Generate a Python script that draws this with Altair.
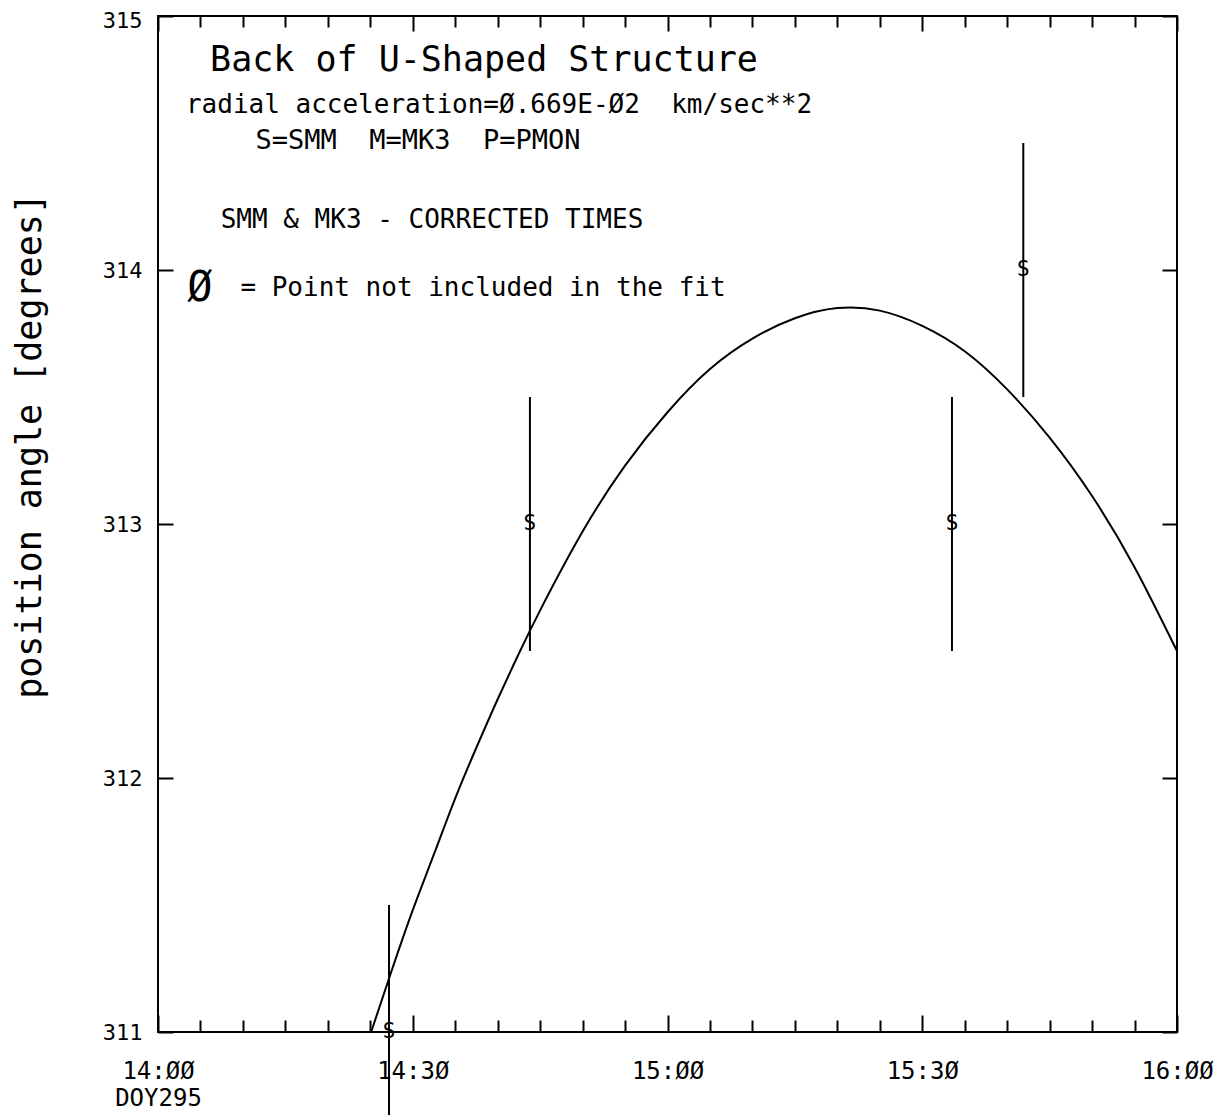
import altair as alt
import pandas as pd

# ---------------- data ----------------
# time in minutes after 14:00 (DOY 295), position angle in degrees
point_times = [27.2, 43.8, 93.5, 101.9]
point_values = [311.0, 313.0, 313.0, 314.0]
point_errors = [0.5, 0.5, 0.5, 0.5]
point_symbols = ["S", "S", "S", "S"]

fit_times = [25.1, 27.5, 30, 32.5, 35, 37.5, 40, 42.5, 45, 50, 55, 60, 65,
             70, 75, 80, 85, 90, 95, 100, 105, 110, 115, 120]
fit_values = [311.00, 311.24, 311.48, 311.70, 311.92, 312.12, 312.31, 312.49,
              312.66, 312.97, 313.23, 313.44, 313.61, 313.73, 313.81, 313.85,
              313.84, 313.78, 313.68, 313.53, 313.34, 313.11, 312.83, 312.50]

x_major_ticks = [0, 30, 60, 90, 120]
x_major_labels = ["14:ØØ", "14:3Ø", "15:ØØ", "15:3Ø", "16:ØØ"]
x_first_sublabel = "DOY295"
x_minor_ticks = [5, 10, 15, 20, 25, 35, 40, 45, 50, 55, 65, 70, 75, 80, 85,
                 95, 100, 105, 110, 115]
y_ticks = [311, 312, 313, 314, 315]

NB = "\u00a0"  # keeps the double spaces of the original text visible
title_line = "Back of U-Shaped Structure"
accel_line = "radial acceleration=Ø.669E-Ø2" + NB + NB + "km/sec**2"
key_line = "S=SMM" + NB + NB + "M=MK3" + NB + NB + "P=PMON"
corr_line = "SMM & MK3 - CORRECTED TIMES"
excl_symbol = "Ø"
excl_line = "= Point not included in the fit"
y_title = "position angle [degrees]"

# ---------------- tables ----------------
pts = pd.DataFrame({"t": point_times, "v": point_values, "s": point_symbols})
pts["lo"] = pts["v"] - pd.Series(point_errors)
pts["hi"] = pts["v"] + pd.Series(point_errors)
fit = pd.DataFrame({"t": fit_times, "v": fit_values})

FONT = "DejaVu Sans Mono"
W, H = 1019, 1016

xs = alt.Scale(domain=[0, 120], nice=False, zero=False)
ys = alt.Scale(domain=[311, 315], nice=False, zero=False)

# label expression for the time axis
parts = []
for v, l in zip(x_major_ticks, x_major_labels):
    if v == x_major_ticks[0]:
        parts.append((v, "['%s','%s']" % (l, x_first_sublabel)))
    else:
        parts.append((v, "'%s'" % l))
expr = "''"
for v, l in reversed(parts):
    expr = "datum.value == %s ? %s : %s" % (v, l, expr)


def tick_axis(orient, values, size, **kw):
    return alt.Axis(orient=orient, values=values, tickSize=size, offset=-size,
                    domain=False, grid=False, ticks=True, tickColor="black",
                    tickWidth=2, title=None, **kw)


x_bottom_major = tick_axis("bottom", x_major_ticks, 17, labels=True,
                           labelExpr=expr, labelFont=FONT, labelFontSize=24,
                           labelColor="black", labelPadding=27,
                           labelLineHeight=27, labelFlush=False,
                           labelOverlap=False, labelBound=False)
x_bottom_minor = tick_axis("bottom", x_minor_ticks, 12, labels=False)
x_top_major = tick_axis("top", x_major_ticks, 15, labels=False)
x_top_minor = tick_axis("top", x_minor_ticks, 11, labels=False)
y_left = tick_axis(
    "left", y_ticks, 15, labels=True, format="d",
    labelFont=FONT, labelFontSize=22, labelColor="black",
    labelPadding=16, labelFlush=False, labelOverlap=False,
    labelOffset={"condition": {"test": "datum.value == %d" % y_ticks[-1],
                               "value": 4}, "value": 0},
)
y_right = tick_axis("right", y_ticks, 15, labels=False)

curve = alt.Chart(fit).mark_line(color="black", strokeWidth=2,
                                 interpolate="natural").encode(
    x=alt.X("t:Q", scale=xs, axis=x_bottom_major),
    y=alt.Y("v:Q", scale=ys, axis=y_left),
)

bars = alt.Chart(pts).mark_rule(color="black", strokeWidth=2).encode(
    x=alt.X("t:Q", scale=xs, axis=x_bottom_minor),
    y=alt.Y("lo:Q", scale=ys, axis=y_right),
    y2="hi:Q",
)

symbols = alt.Chart(pts).mark_text(font=FONT, fontSize=21, color="black",
                                   baseline="middle", align="center").encode(
    x=alt.X("t:Q", scale=xs, axis=x_top_major),
    y=alt.Y("v:Q", scale=ys, axis=None),
    text="s:N",
)

holder = alt.Chart(pts).mark_point(opacity=0).encode(
    x=alt.X("t:Q", scale=xs, axis=x_top_minor),
    y=alt.Y("v:Q", scale=ys, axis=None),
)

one = pd.DataFrame({"a": [0]})


def note(text, px, py, size, angle=0):
    return alt.Chart(one).mark_text(font=FONT, fontSize=size, color="black",
                                    align="center", baseline="middle",
                                    angle=angle).encode(
        x=alt.value(px), y=alt.value(py), text=alt.value(text))


notes = [
    note(title_line, 326, 44, 35),
    note(accel_line, 341, 89, 26),
    note(key_line, 260, 125, 27),
    note(corr_line, 274, 204, 26),
    note(excl_symbol, 42, 272, 42),
    note(excl_line, 325, 272, 26),
    note(y_title, -128, 430, 35, angle=270),
]

chart = alt.layer(curve, bars, symbols, holder, *notes).resolve_axis(
    x="independent", y="independent"
).properties(
    width=W, height=H,
    padding={"left": 150, "top": 8, "right": 43, "bottom": 83},
    autosize=alt.AutoSizeParams(type="none"),
    background="white",
).configure_view(stroke="black", strokeWidth=2, fill="white")

chart.save("out.html", embed_options={"renderer": "svg", "actions": False})
